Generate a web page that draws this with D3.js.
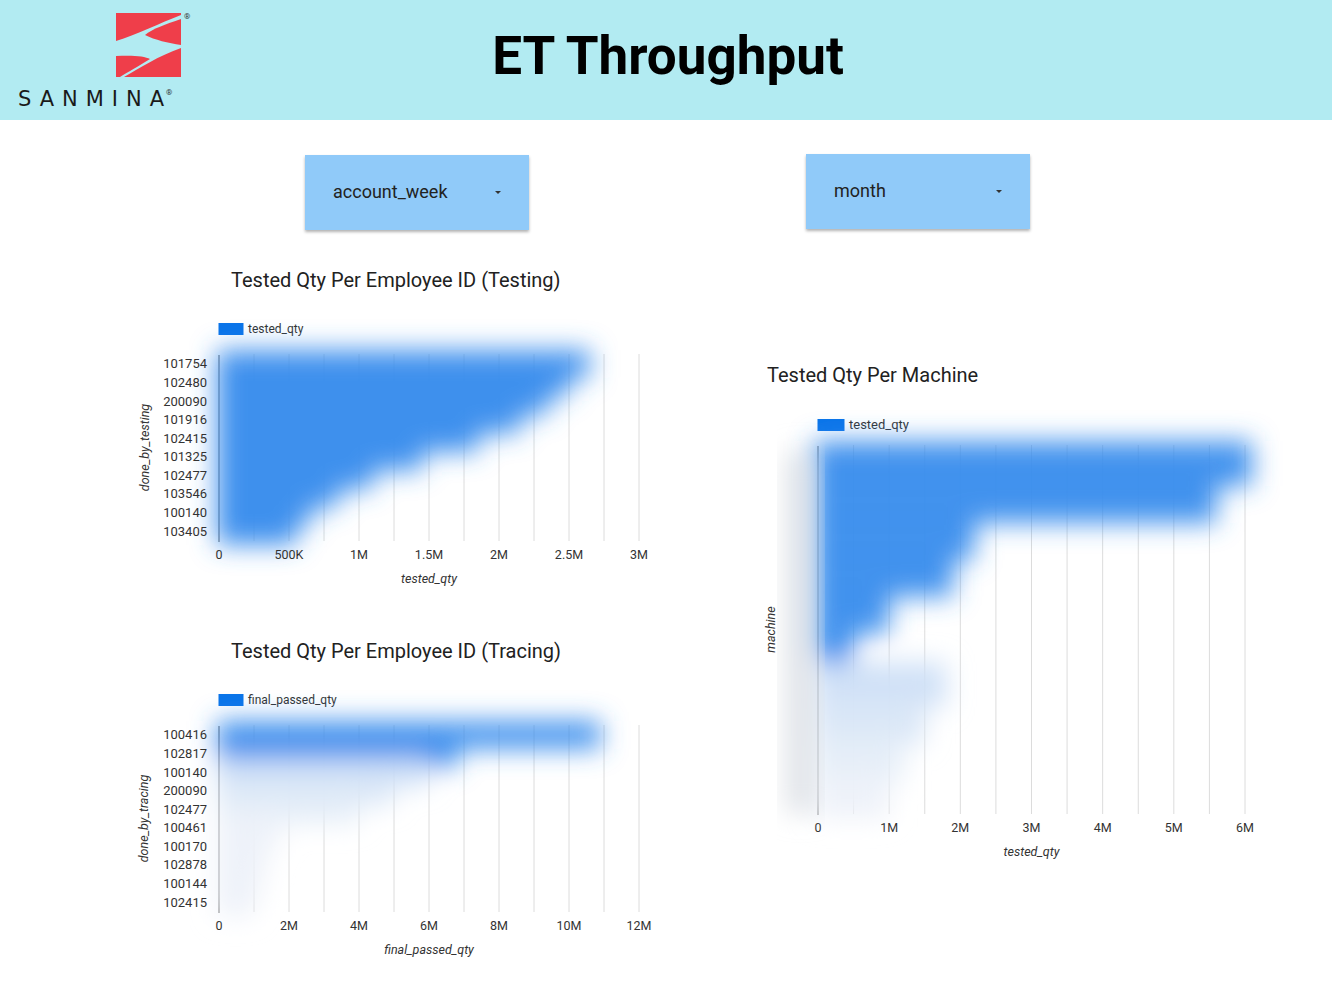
<!DOCTYPE html>
<html>
<head>
<meta charset="utf-8">
<script src="https://cdn.jsdelivr.net/npm/d3@7"></script>
<style>
  body { margin: 0; background: #fff; font-family: Roboto, "Noto Sans", sans-serif; }
  svg { display: block; }
</style>
</head>
<body>
<script>
// --- data ---
var testingIds = ["101754", "102480", "200090", "101916", "102415", "101325", "102477", "103546", "100140", "103405"];
var testingQty = [2650000, 2500000, 2350000, 2150000, 1850000, 1450000, 1100000, 850000, 650000, 550000];

var tracingIds = ["100416", "102817", "100140", "200090", "102477", "100461", "100170", "102878", "100144", "102415"];
var tracingQty = [10900000, 6800000, 6000000, 5000000, 4000000, 1800000, 1500000, 1300000, 1200000, 1000000];

// machine names are not legible in the source, only the bar lengths
var machineIdx = [0, 1, 2, 3, 4, 5, 6, 7, 8, 9];
var machineQty = [6100000, 5600000, 2200000, 1900000, 1000000, 500000, 1800000, 1500000, 1200000, 1000000];

var dropdowns = ["account_week", "month"];

var W = 1332, H = 1003;

var svg = d3.select("body").append("svg")
    .attr("width", W)
    .attr("height", H);

var defs = svg.append("defs");
defs.append("filter")
    .attr("id", "smudge")
    .attr("x", "-30%").attr("y", "-30%")
    .attr("width", "160%").attr("height", "160%")
  .append("feGaussianBlur")
    .attr("stdDeviation", 13);
var sh = defs.append("filter")
    .attr("id", "shadow")
    .attr("x", "-10%").attr("y", "-10%")
    .attr("width", "120%").attr("height", "130%");
sh.append("feDropShadow")
    .attr("dx", 0).attr("dy", 2)
    .attr("stdDeviation", 1.5)
    .attr("flood-color", "#000")
    .attr("flood-opacity", 0.3);

// header band
svg.append("rect")
    .attr("width", W).attr("height", 120)
    .attr("fill", "#b2ebf2");

svg.append("text")
    .attr("x", 668).attr("y", 74)
    .attr("text-anchor", "middle")
    .style("font-family", "Roboto")
    .style("font-weight", 700)
    .style("font-size", "53px")
    .attr("fill", "#000")
    .text("ET Throughput");

// logo: four red pieces forming the S
var logo = svg.append("g").attr("fill", "#ef3e4a");
logo.append("path").attr("d", "M116,13 L181,13 L181,15 C160,23 136,35 116,41 Z");
logo.append("path").attr("d", "M181,19 C166,24 152,29 145,35 C155,40 168,43 181,45 Z");
logo.append("path").attr("d", "M181,48 L181,77 L124,77 C140,68 158,56 181,48 Z");
logo.append("path").attr("d", "M116,56 C132,55 145,56 150,59 C139,66 128,72 120,77 L116,77 Z");
svg.append("text")
    .attr("x", 184).attr("y", 19)
    .style("font-size", "8px")
    .attr("fill", "#333")
    .text("®");
svg.append("text")
    .attr("x", 18).attr("y", 106)
    .attr("textLength", 146)
    .attr("lengthAdjust", "spacing")
    .style("font-family", "'DejaVu Sans', sans-serif")
    .style("font-size", "21px")
    .attr("fill", "#1a1a1a")
    .text("SANMINA");
svg.append("text")
    .attr("x", 166).attr("y", 95)
    .style("font-size", "8px")
    .attr("fill", "#333")
    .text("®");

// dropdown controls
var dd = svg.selectAll("g.dd")
    .data(dropdowns)
  .enter().append("g")
    .attr("class", "dd")
    .attr("transform", function(d, i) { return "translate(" + (i ? 806 : 305) + "," + (i ? 154 : 155) + ")"; });
dd.append("rect")
    .attr("width", 224).attr("height", 75)
    .attr("fill", "#90caf9")
    .attr("filter", "url(#shadow)");
dd.append("text")
    .attr("x", 28).attr("y", 43)
    .style("font-size", "18px")
    .attr("fill", "#222")
    .text(function(d) { return d; });
dd.append("path")
    .attr("d", "M190,36 l6,0 l-3,3 z")
    .attr("fill", "#333");

function fmt(d) {
  if (d === 0) return "0";
  if (d >= 1e6) return (d / 1e6) + "M";
  return (d / 1e3) + "K";
}

function barChart(opt) {
  var x = d3.scaleLinear().domain([0, opt.max]).range([opt.x0, opt.x1]);
  var y = d3.scaleBand().domain(opt.cats).range([opt.y0, opt.y1]).paddingInner(0.05);
  var g = svg.append("g");

  svg.append("text")
      .attr("x", opt.titleX).attr("y", opt.titleY)
      .style("font-size", "20px")
      .attr("fill", "#212121")
      .text(opt.title);

  // legend
  g.append("rect")
      .attr("x", opt.x0 - 0.5).attr("y", opt.legendY - 6)
      .attr("width", opt.legendW).attr("height", 12)
      .attr("fill", "#0a74e9");
  g.append("text")
      .attr("x", opt.x0 + opt.legendW + 4).attr("y", opt.legendY + 4)
      .style("font-size", opt.legendSize)
      .attr("fill", "#333")
      .text(opt.series);

  // grid
  g.selectAll("line.grid")
      .data(d3.range(opt.gridStep, opt.max + 1, opt.gridStep))
    .enter().append("line")
      .attr("x1", function(d) { return x(d); })
      .attr("x2", function(d) { return x(d); })
      .attr("y1", opt.y0 - 1)
      .attr("y2", opt.y1 + 1)
      .attr("stroke", "#dcdcdc");
  g.append("line")
      .attr("x1", opt.x0).attr("x2", opt.x0)
      .attr("y1", opt.y0).attr("y2", opt.y1 + 2)
      .attr("stroke", "#555");

  // bars, smudged like the source: first rows stay blue, the rest wash out
  var wash = d3.interpolateRgb("#3a8ded", "#f3f5f9");
  g.append("g")
      .attr("filter", "url(#smudge)")
    .selectAll("rect")
      .data(opt.vals)
    .enter().append("rect")
      .attr("x", opt.x0 - opt.spill)
      .attr("y", function(d, i) { return y(opt.cats[i]) - 5; })
      .attr("width", function(d) { return x(d) - opt.x0 + opt.spill; })
      .attr("height", y.bandwidth() + 10)
      .attr("fill", function(d, i) {
        return i < opt.solidRows ? "#3a8ded" : wash(Math.min(0.97, 0.8 + 0.06 * (i - opt.solidRows)));
      })
      .attr("fill-opacity", function(d, i) { return i < opt.solidRows ? 0.95 : 0.97; });

  // x ticks
  g.selectAll("text.xt")
      .data(d3.range(0, opt.max + 1, opt.tickStep))
    .enter().append("text")
      .attr("x", function(d) { return x(d); })
      .attr("y", opt.y1 + 19)
      .attr("text-anchor", "middle")
      .style("font-size", "12.5px")
      .attr("fill", "#333")
      .text(fmt);

  if (opt.showLabels) {
    g.selectAll("text.yt")
        .data(opt.cats)
      .enter().append("text")
        .attr("x", opt.x0 - 12)
        .attr("y", function(d) { return y(d) + y.bandwidth() / 2 + 4.5; })
        .attr("text-anchor", "end")
        .style("font-size", "13px")
        .attr("fill", "#333")
        .text(function(d) { return d; });
  } else {
    g.append("rect")
        .attr("x", opt.x0 - 32).attr("y", opt.y0 + 6)
        .attr("width", 30).attr("height", opt.y1 - opt.y0 - 6)
        .attr("fill", "#d8dce2")
        .attr("fill-opacity", 0.8)
        .attr("filter", "url(#smudge)");
  }

  g.append("text")
      .attr("x", (opt.x0 + opt.x1) / 2)
      .attr("y", opt.y1 + 43)
      .attr("text-anchor", "middle")
      .style("font-size", "12.5px")
      .style("font-style", "italic")
      .attr("fill", "#333")
      .text(opt.xTitle);
  g.append("text")
      .attr("transform", "translate(" + opt.yTitleX + "," + ((opt.y0 + opt.y1) / 2) + ")rotate(-90)")
      .attr("text-anchor", "middle")
      .style("font-size", "12.5px")
      .style("font-style", "italic")
      .attr("fill", "#333")
      .text(opt.yTitle);
}

barChart({
  title: "Tested Qty Per Employee ID (Testing)", titleX: 231, titleY: 287,
  cats: testingIds, vals: testingQty, series: "tested_qty",
  max: 3e6, tickStep: 5e5, gridStep: 2.5e5,
  x0: 219, x1: 639, y0: 355, y1: 540,
  legendY: 329, legendW: 25, legendSize: "12px", solidRows: 10, spill: 2,
  xTitle: "tested_qty", yTitle: "done_by_testing", yTitleX: 149, showLabels: true
});

barChart({
  title: "Tested Qty Per Employee ID (Tracing)", titleX: 231, titleY: 658,
  cats: tracingIds, vals: tracingQty, series: "final_passed_qty",
  max: 12e6, tickStep: 2e6, gridStep: 1e6,
  x0: 219, x1: 639, y0: 726, y1: 911,
  legendY: 700, legendW: 25, legendSize: "12px", solidRows: 2, spill: 2,
  xTitle: "final_passed_qty", yTitle: "done_by_tracing", yTitleX: 148, showLabels: true
});

barChart({
  title: "Tested Qty Per Machine", titleX: 767, titleY: 382,
  cats: machineIdx, vals: machineQty, series: "tested_qty",
  max: 6e6, tickStep: 1e6, gridStep: 5e5,
  x0: 818, x1: 1245, y0: 446, y1: 813,
  legendY: 425, legendW: 27, legendSize: "13px", solidRows: 6, spill: 4,
  xTitle: "tested_qty", yTitle: "machine", yTitleX: 775, showLabels: false
});
</script>
</body>
</html>
